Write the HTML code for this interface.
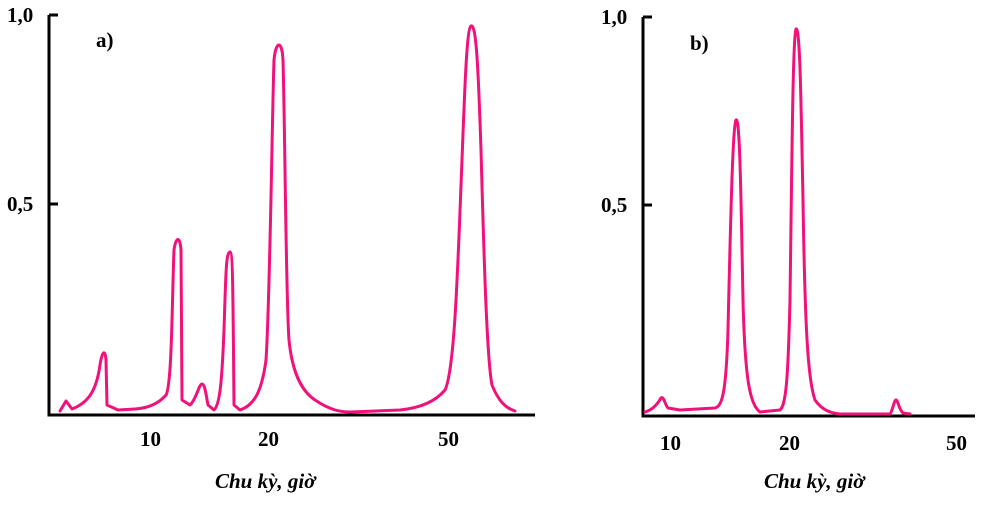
<!DOCTYPE html>
<html><head><meta charset="utf-8"><style>
body{margin:0;background:#fff}
svg text{font-family:"Liberation Serif",serif;font-weight:bold;font-size:21px;fill:#000}
</style></head><body>
<svg width="982" height="503" viewBox="0 0 982 503" xmlns="http://www.w3.org/2000/svg">
<g stroke="#000" stroke-width="3" fill="none">
<path d="M49,15 V415 H535"/><path d="M49,15 H58 M49,204 H58"/>
<path d="M643,17 V416 H975"/><path d="M643,17 H652 M643,205 H652"/>
</g>
<text x="7" y="22">1,0</text><text x="7" y="211">0,5</text>
<text x="601" y="24">1,0</text><text x="601" y="212">0,5</text>
<text x="96" y="47">a)</text><text x="690" y="50">b)</text>
<text x="140" y="446">10</text><text x="258" y="446">20</text><text x="438" y="446">50</text>
<text x="660" y="450">10</text><text x="779" y="450">20</text><text x="946" y="450">50</text>
<text x="215" y="488" font-style="italic">Chu kỳ, giờ</text>
<text x="764" y="488" font-style="italic">Chu kỳ, giờ</text>
<g stroke="#f0117a" stroke-width="3" fill="none" stroke-linejoin="round" stroke-linecap="round">
<path d="M60,411 L66,401 L72,409 C85,404 96,395 100,365 C102,352 105,348 106,360 L107,405 L118,410 L135,409 C150,408 160,402 166,395 C172,385 172,300 174,250 C176,236 180,236 181,250 L182,400 L190,405 C196,400 199,384 202,384 C205,384 206,395 208,405 L214,410 C220,405 222,380 224,330 C226,270 226,253 230,252 C233,252 233,300 234,405 L240,410 C255,405 262,390 266,360 C270,300 272,120 274,60 C276,40 282,40 283,60 C285,130 286,300 289,340 C292,370 300,390 315,400 C330,410 340,412 350,412 L400,410 C420,408 435,402 445,390 C455,370 458,260 462,160 C465,80 467,28 471,26 C476,24 478,60 481,150 C484,260 487,360 492,385 C498,400 505,408 515,411"/>
<path d="M645,412 C652,410 657,405 661,398 C664,396 665,405 668,408 L680,410 L715,408 C722,406 726,395 728,330 C731,200 733,125 736,120 C740,116 741,200 743,300 C745,380 750,405 760,412 L780,410 C786,405 788,380 790,300 C792,150 793,35 796,29 C800,26 801,100 803,200 C805,330 808,380 815,400 C822,410 830,413 840,414 L890,414 C893,410 894,400 896,400 C898,400 899,410 903,413 L910,414"/>
</g>
</svg>
</body></html>
